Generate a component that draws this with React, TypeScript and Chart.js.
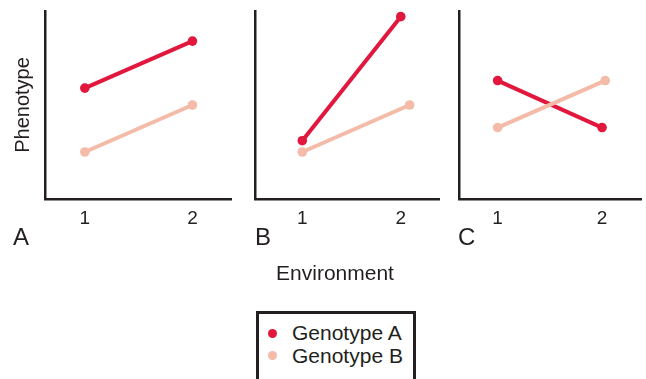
import React, { useEffect, useRef } from 'react';
import { Chart, registerables } from 'chart.js';

Chart.register(...registerables);

// ---------- data ----------
const environmentTicks = [1, 2];
const tickLabels = ['1', '2'];
const seriesNames = ['Genotype A', 'Genotype B'];
const panelLetters = ['A', 'B', 'C'];
const yAxisTitle = 'Phenotype';
const xAxisTitle = 'Environment';

// Panel A
const panelA_envA = [1, 2];
const panelA_genoA = [5.9, 8.4];
const panelA_envB = [1, 2];
const panelA_genoB = [2.5, 5.0];
// Panel B
const panelB_envA = [1, 2];
const panelB_genoA = [3.1, 9.7];
const panelB_envB = [1, 2.09];
const panelB_genoB = [2.5, 5.0];
// Panel C
const panelC_envA = [1, 2];
const panelC_genoA = [6.3, 3.8];
const panelC_envB = [1, 2.03];
const panelC_genoB = [3.8, 6.3];

const xRanges = [
  [0.63, 2.36],
  [0.52, 2.39],
  [0.63, 2.375],
];
const yRange = [0, 10];

// ---------- style ----------
const FONT = '"Liberation Sans", Arial, Helvetica, sans-serif';
const INK = '#231f20';
const RED = '#e2173d';
const PINK = '#f4bba8';

const panelData = [
  { envA: panelA_envA, genoA: panelA_genoA, envB: panelA_envB, genoB: panelA_genoB },
  { envA: panelB_envA, genoA: panelB_genoA, envB: panelB_envB, genoB: panelB_genoB },
  { envA: panelC_envA, genoA: panelC_genoA, envB: panelC_envB, genoB: panelC_genoB },
];

const panelLayout = [
  { left: 0, width: 236, yWidth: 45, padRight: 4, title: true },
  { left: 240, width: 204, yWidth: 15, padRight: 2, title: false },
  { left: 444, width: 202, yWidth: 15, padRight: 1, title: false },
];
const CANVAS_H = 235;
const X_SCALE_H = 36;

function Panel({ idx }: { idx: number }) {
  const ref = useRef<HTMLCanvasElement | null>(null);
  useEffect(() => {
    const d = panelData[idx];
    const lay = panelLayout[idx];
    const mk = (xs: number[], ys: number[]) => xs.map((x, i) => ({ x, y: ys[i] }));
    const chart = new Chart(ref.current as HTMLCanvasElement, {
      type: 'line',
      data: {
        datasets: [
          {
            label: seriesNames[0],
            data: mk(d.envA, d.genoA),
            borderColor: RED,
            backgroundColor: RED,
            pointBackgroundColor: RED,
            borderWidth: 4,
            pointRadius: 4.8,
            pointHoverRadius: 4.8,
            pointBorderWidth: 0,
            order: 2,
            clip: false,
          } as any,
          {
            label: seriesNames[1],
            data: mk(d.envB, d.genoB),
            borderColor: PINK,
            backgroundColor: PINK,
            pointBackgroundColor: PINK,
            borderWidth: 4,
            pointRadius: 4.8,
            pointHoverRadius: 4.8,
            pointBorderWidth: 0,
            order: 1,
            clip: false,
          } as any,
        ],
      },
      options: {
        animation: false,
        responsive: false,
        maintainAspectRatio: false,
        events: [],
        layout: { padding: { top: 11, right: lay.padRight, left: 0, bottom: 0 } },
        plugins: { legend: { display: false }, tooltip: { enabled: false } },
        scales: {
          x: {
            type: 'linear',
            min: xRanges[idx][0],
            max: xRanges[idx][1],
            grid: { display: false, drawTicks: false },
            border: { display: true, color: INK, width: 2.5 },
            afterBuildTicks: (s: any) => {
              s.ticks = environmentTicks.map((v) => ({ value: v }));
            },
            afterFit: (s: any) => {
              s.height = X_SCALE_H;
            },
            ticks: {
              callback: (v: any) => {
                const i = environmentTicks.indexOf(Number(v));
                return i >= 0 ? tickLabels[i] : '';
              },
              font: { family: FONT, size: 19 },
              color: INK,
              padding: 8,
              maxRotation: 0,
              autoSkip: false,
            },
          },
          y: {
            type: 'linear',
            min: yRange[0],
            max: yRange[1],
            grid: { display: false, drawTicks: false },
            border: { display: true, color: INK, width: 2.5 },
            ticks: { display: false },
            title: {
              display: lay.title,
              text: yAxisTitle,
              font: { family: FONT, size: 20 },
              color: INK,
              padding: { top: 11, bottom: 0 },
            },
            afterFit: (s: any) => {
              s.width = lay.yWidth;
            },
          },
        },
      } as any,
    });
    return () => chart.destroy();
  }, [idx]);
  const lay = panelLayout[idx];
  return (
    <canvas
      ref={ref}
      width={lay.width}
      height={CANVAS_H}
      style={{ position: 'absolute', left: lay.left, top: 0, width: lay.width, height: CANVAS_H }}
    />
  );
}

const letterLeft = [13, 255, 458];

export default function App() {
  const textBase: React.CSSProperties = {
    position: 'absolute',
    fontFamily: FONT,
    color: INK,
    whiteSpace: 'nowrap',
  };
  return (
    <div
      style={{
        position: 'absolute',
        left: 0,
        top: 0,
        width: 646,
        height: 379,
        overflow: 'hidden',
        background: '#ffffff',
      }}
    >
      {[0, 1, 2].map((i) => (
        <Panel key={i} idx={i} />
      ))}
      {panelLetters.map((t, i) => (
        <div
          key={t}
          style={{ ...textBase, left: letterLeft[i], top: 225, fontSize: 24, lineHeight: '24px' }}
        >
          {t}
        </div>
      ))}
      <div
        style={{
          ...textBase,
          left: 235,
          width: 200,
          textAlign: 'center',
          top: 262,
          fontSize: 21,
          lineHeight: '21px',
        }}
      >
        {xAxisTitle}
      </div>
      <div
        style={{
          position: 'absolute',
          left: 256,
          top: 311,
          width: 160,
          height: 100,
          border: `3px solid ${INK}`,
          boxSizing: 'border-box',
        }}
      />
      {seriesNames.map((name, i) => (
        <React.Fragment key={name}>
          <div
            style={{
              position: 'absolute',
              left: 272.7 - 4.6,
              top: (i === 0 ? 333.3 : 355.5) - 4.6,
              width: 9.2,
              height: 9.2,
              borderRadius: '50%',
              background: i === 0 ? RED : PINK,
            }}
          />
          <div
            style={{
              ...textBase,
              left: 292,
              top: i === 0 ? 322 : 345,
              fontSize: 21,
              lineHeight: '21px',
            }}
          >
            {name}
          </div>
        </React.Fragment>
      ))}
    </div>
  );
}
